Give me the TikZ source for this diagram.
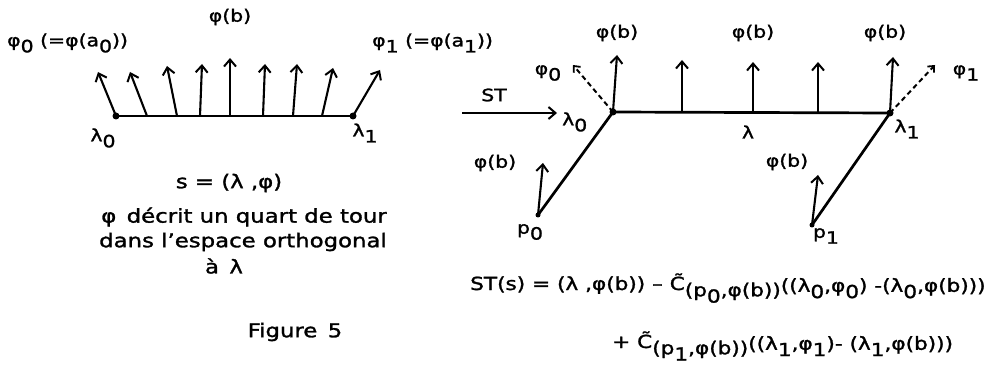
\documentclass[tikz,border=0pt]{standalone}
\usepackage{fontspec}
\setmainfont[FakeStretch=1.2,FakeBold=1.5]{DejaVu Sans}
\usetikzlibrary{arrows.meta}
\newcommand\lo[1]{\raisebox{-0.35em}{#1}}
\newcommand\Ct{\~{C}}
\begin{document}
\begin{tikzpicture}[x=1pt,y=-1pt,
  ln/.style={line width=2.7pt},
  ar/.style={line width=2.1pt,-{Straight Barb[length=7pt,width=12pt,line width=2pt]}},
  dsh/.style={line width=2pt,dash pattern=on 5pt off 3.5pt,-{Straight Barb[length=5pt,width=9pt,line width=1.8pt]}},
  dot/.style={circle,fill,inner sep=0pt,minimum size=7pt},
  lab/.style={inner sep=0pt,font=\fontsize{17}{19}\selectfont},
  txt/.style={inner sep=0pt,font=\fontsize{19}{22}\selectfont},
  frm/.style={inner sep=0pt,anchor=base west,font=\fontsize{18}{22}\selectfont}]
\useasboundingbox (0,0) rectangle (1001,382);
% ---------- left figure ----------
\node[dot] (A0) at (116,116) {};
\node[dot] (A1) at (353,116) {};
\draw[ln] (A0.center) -- (A1.center);
\coordinate (b1) at (147,116); \coordinate (b2) at (177,116);
\coordinate (b3) at (200,116); \coordinate (b4) at (230,116);
\coordinate (b5) at (263,116); \coordinate (b6) at (293,116);
\coordinate (b7) at (322,116);
\coordinate (t0) at (98,72);  \coordinate (t1) at (130,72);
\coordinate (t2) at (167,66); \coordinate (t3) at (202,64);
\coordinate (t4) at (230,58); \coordinate (t5) at (265,64);
\coordinate (t6) at (297,64); \coordinate (t7) at (333,68);
\coordinate (t8) at (380,70);
\draw[ar] (A0.center) -- (t0);
\draw[ar] (b1) -- (t1);
\draw[ar] (b2) -- (t2);
\draw[ar] (b3) -- (t3);
\draw[ar] (b4) -- (t4);
\draw[ar] (b5) -- (t5);
\draw[ar] (b6) -- (t6);
\draw[ar] (b7) -- (t7);
\draw[ar] (A1.center) -- (t8);
\node[lab] (Lphib) at (230,17) {φ(b)};
\node[lab,anchor=west] (Lphi0) at (7,43) {φ\lo{0} (=φ(a\lo{0}))};
\node[lab,anchor=west] (Lphi1) at (372,43) {φ\lo{1} (=φ(a\lo{1}))};
\node[lab] (Llam0) at (103,138) {λ\lo{0}};
\node[lab] (Llam1) at (365,133) {λ\lo{1}};
\node[txt] (Ls) at (229,183) {s = (λ ,φ)};
\node[txt] (Ld1) at (244,217) {φ\, décrit un quart de tour};
\node[txt] (Ld2) at (243,242) {dans l'espace orthogonal};
\node[txt] (Ld3) at (224,266) {à\, λ};
\node[txt] (Lfig) at (295,332) {Figure\, 5};
% ---------- right figure ----------
\node[dot] (B0) at (613,112) {};
\node[dot] (B1) at (890,113) {};
\node[dot,minimum size=5pt] (P0) at (538,215) {};
\node[dot,minimum size=5pt] (P1) at (812,225) {};
\draw[ln] (B0.center) -- (B1.center);
\draw[ln] (P0.center) -- (B0.center);
\draw[ln] (P1.center) -- (B1.center);
\coordinate (STs) at (462,113);
\coordinate (STe) at (557,113);
\node[lab] (Lst) at (494,95) {ST};
\node[lab,anchor=west] (Rlam0) at (562,122) {λ\lo{0}};
\draw[ar] (STs) -- (STe);
\coordinate (c1) at (682,112); \coordinate (c2) at (753,113);
\coordinate (c3) at (818,113);
\coordinate (u0) at (617,55); \coordinate (u1) at (682,60);
\coordinate (u2) at (753,62); \coordinate (u3) at (818,62);
\coordinate (u4) at (893,57);
\draw[ar] (B0.center) -- (u0);
\draw[ar] (c1) -- (u1);
\draw[ar] (c2) -- (u2);
\draw[ar] (c3) -- (u3);
\draw[ar] (B1.center) -- (u4);
\coordinate (d0) at (573,65); \coordinate (d1) at (935,65);
\draw[dsh] (B0.center) -- (d0);
\draw[dsh] (B1.center) -- (d1);
\coordinate (q0) at (543,163); \coordinate (q1) at (818,175);
\draw[ar] (P0.center) -- (q0);
\draw[ar] (P1.center) -- (q1);
\node[lab] (Rphib0) at (617,33) {φ(b)};
\node[lab] (Rphib1) at (753,33) {φ(b)};
\node[lab] (Rphib2) at (885,33) {φ(b)};
\node[lab] (Rphi0) at (548,73) {φ\lo{0}};
\node[lab] (Rphi1) at (966,73) {φ\lo{1}};
\node[lab] (Rlam) at (748,132) {λ};
\node[lab] (Rlam1) at (907,129) {λ\lo{1}};
\node[lab] (Rphib3) at (495,163) {φ(b)};
\node[lab] (Rphib4) at (787,162) {φ(b)};
\node[lab] (Rp0) at (530,232) {p\lo{0}};
\node[lab] (Rp1) at (826,236) {p\lo{1}};
\node[frm] (F1) at (470,290) {ST(s) = (λ ,φ(b)) – \Ct\lo{(p\lo{0},φ(b))}\raisebox{-0.1em}{((λ\lo{0},φ\lo{0}) -(λ\lo{0},φ(b)))}};
\node[frm] (F2) at (612,348) {+ \Ct\lo{(p\lo{1},φ(b))}\raisebox{-0.1em}{((λ\lo{1},φ\lo{1})- (λ\lo{1},φ(b)))}};
\end{tikzpicture}
\end{document}
